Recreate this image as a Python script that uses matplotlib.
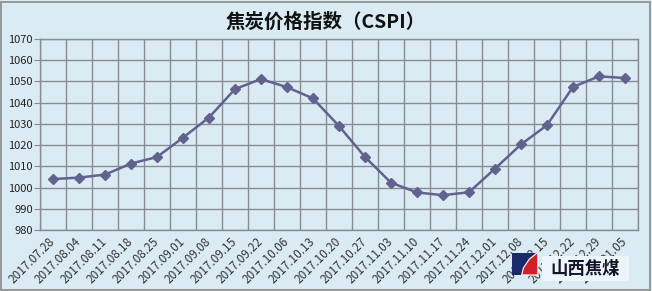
import matplotlib.pyplot as plt
import matplotlib.patches as mpatches
import numpy as np

plt.rcParams['font.family'] = ['Noto Sans CJK SC', 'DejaVu Sans']

dates = ['2017.07.28', '2017.08.04', '2017.08.11', '2017.08.18', '2017.08.25',
         '2017.09.01', '2017.09.08', '2017.09.15', '2017.09.22', '2017.10.06',
         '2017.10.13', '2017.10.20', '2017.10.27', '2017.11.03', '2017.11.10',
         '2017.11.17', '2017.11.24', '2017.12.01', '2017.12.08', '2017.12.15',
         '2017.12.22', '2017.12.29', '2018.01.05']
cspi = [1004.0, 1004.7, 1006.1, 1011.3, 1014.4, 1023.5, 1033.0, 1046.4, 1051.1,
        1047.3, 1042.0, 1029.0, 1014.4, 1002.3, 997.7, 996.4, 997.8, 1008.9,
        1020.3, 1029.4, 1047.4, 1052.4, 1051.6]
yticks = list(range(980, 1071, 10))

bg = '#DBEBF4'
line_c = '#62628F'
grid_c = '#878C94'

fig = plt.figure(figsize=(6.52, 2.91), dpi=100, facecolor=bg)
fig.patches.append(mpatches.Rectangle((0.002, 0.004), 0.995, 0.99, transform=fig.transFigure,
                                      fill=False, edgecolor='#8A8A8A', lw=1.2))
ax = fig.add_axes([0.0613, 0.2096, 0.9172, 0.6564])
ax.set_facecolor(bg)

x = np.arange(len(dates))
ax.plot(x, cspi, color=line_c, lw=1.8, marker='D', ms=5.5, mfc=line_c, mec=line_c, zorder=3)

ax.set_xlim(-0.5, len(dates) - 0.5)
ax.set_ylim(980, 1070)
ax.set_yticks(yticks)
ax.set_xticks(x)
ax.set_xticks(np.arange(-0.5, len(dates), 1.0), minor=True)
ax.set_xticklabels(dates, rotation=45, ha='right', va='center', rotation_mode='anchor',
                   fontsize=8.5, color='#333333')
ax.tick_params(axis='x', which='major', length=0, pad=7)
ax.tick_params(axis='x', which='minor', length=0)
ax.tick_params(axis='y', length=4, color=grid_c, labelsize=8, pad=1, labelcolor='#222222')
ax.grid(axis='x', which='minor', color=grid_c, lw=1)
ax.grid(axis='y', which='major', color=grid_c, lw=1)
for s in ax.spines.values():
    s.set_color(grid_c)
    s.set_linewidth(1)

fig.text(0.5, 0.925, '焦炭价格指数（CSPI）', ha='center', va='center', fontsize=14,
         fontweight='bold', color='#111111')

# logo in the lower right corner
fig.patches.append(mpatches.Rectangle((0.785, 0.055), 0.037, 0.076, transform=fig.transFigure,
                                      facecolor='#1B2A6B', edgecolor='none', zorder=5))
fig.patches.append(mpatches.Polygon([(0.800, 0.055), (0.825, 0.055), (0.825, 0.133),
                                     (0.812, 0.110), (0.803, 0.080)],
                                    closed=True, transform=fig.transFigure,
                                    facecolor='#D0202A', edgecolor='white', lw=0.8, zorder=6))
fig.patches.append(mpatches.Rectangle((0.832, 0.035), 0.132, 0.085, transform=fig.transFigure,
                                      facecolor='#EEF5FA', edgecolor='none', zorder=5))
fig.text(0.898, 0.075, '山西焦煤', ha='center', va='center', fontsize=12.5, fontweight='bold',
         color='#15152A', zorder=7)

fig.savefig('out.png', dpi=100, facecolor=bg)
